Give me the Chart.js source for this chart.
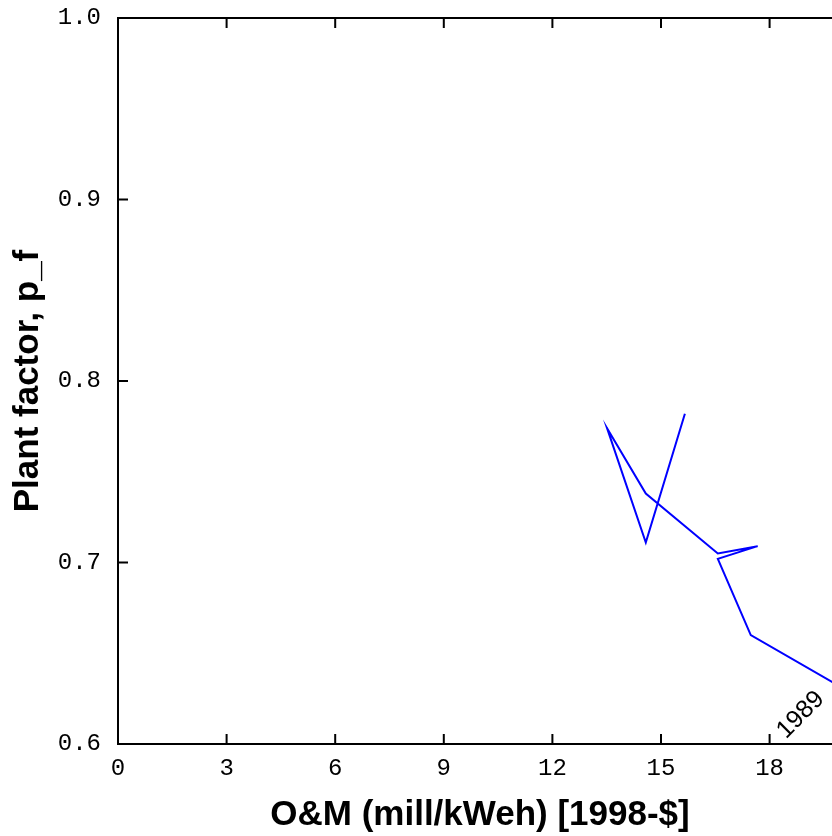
<!DOCTYPE html>
<html lang="en">
<head>
    <meta charset="UTF-8">
    <title>Plant factor vs O&amp;M</title>
    <script src="https://cdn.jsdelivr.net/npm/chart.js"></script>
    <style>
        html, body { margin: 0; padding: 0; background: #fff; overflow: hidden; }
        body { width: 832px; height: 836px; }
        canvas { display: block; }
    </style>
</head>
<body>
    <canvas id="chart" width="860" height="836"></canvas>

    <script>
        // O&M cost (mill/kWeh, 1998-$) and plant factor, one point per year
        const years = [1989, 1990, 1991, 1992, 1993, 1994, 1995, 1996, 1997];
        const omCost = [20.0, 17.48, 16.57, 17.67, 16.57, 14.58, 13.51, 14.58, 15.66];
        const plantFactor = [0.631, 0.660, 0.702, 0.709, 0.705, 0.738, 0.774, 0.711, 0.782];

        const xTicks = [0, 3, 6, 9, 12, 15, 18];
        const yTicks = [0.6, 0.7, 0.8, 0.9, 1.0];

        // year label next to the first point
        const yearLabel = { text: '1989', x: 18.45, y: 0.6025 };

        const points = omCost.map((v, i) => ({ x: v, y: plantFactor[i] }));

        // box round the plot with inward tick marks on all four sides
        const framePlugin = {
            id: 'frame',
            afterDatasetsDraw(chart) {
                const { ctx, chartArea: a, scales: { x, y } } = chart;
                const len = 10;
                ctx.save();
                ctx.strokeStyle = '#000';
                ctx.lineWidth = 2;
                ctx.strokeRect(a.left, a.top, a.right - a.left, a.bottom - a.top);
                ctx.beginPath();
                xTicks.forEach(v => {
                    const px = x.getPixelForValue(v);
                    ctx.moveTo(px, a.bottom); ctx.lineTo(px, a.bottom - len);
                    ctx.moveTo(px, a.top); ctx.lineTo(px, a.top + len);
                });
                yTicks.forEach(v => {
                    const py = y.getPixelForValue(v);
                    ctx.moveTo(a.left, py); ctx.lineTo(a.left + len, py);
                    ctx.moveTo(a.right, py); ctx.lineTo(a.right - len, py);
                });
                ctx.stroke();

                // year annotation
                ctx.translate(x.getPixelForValue(yearLabel.x), y.getPixelForValue(yearLabel.y));
                ctx.rotate(-Math.PI / 4);
                ctx.fillStyle = '#000';
                ctx.font = '25px "Liberation Sans", Arial, sans-serif';
                ctx.textAlign = 'left';
                ctx.textBaseline = 'alphabetic';
                ctx.fillText(yearLabel.text, 0, 0);
                ctx.restore();
            }
        };

        const tickFont = { family: '"Liberation Mono", "Courier New", monospace', size: 24 };
        const titleFont = { family: '"Liberation Sans", Arial, sans-serif', size: 35, weight: 'bold' };

        new Chart(document.getElementById('chart').getContext('2d'), {
            type: 'scatter',
            data: {
                datasets: [{
                    data: points,
                    showLine: true,
                    borderColor: '#0000ff',
                    borderWidth: 2,
                    pointRadius: 0,
                    fill: false,
                    tension: 0
                }]
            },
            options: {
                responsive: false,
                animation: false,
                layout: { padding: { top: 18, right: 18, left: 0, bottom: 0 } },
                plugins: {
                    legend: { display: false },
                    tooltip: { enabled: false }
                },
                scales: {
                    x: {
                        type: 'linear',
                        min: 0,
                        max: 20,
                        afterFit: scale => {
                            scale.height = 92;
                            scale.paddingLeft = 0;
                            scale.paddingRight = 0;
                        },
                        afterBuildTicks: scale => { scale.ticks = xTicks.map(v => ({ value: v })); },
                        border: { display: false },
                        grid: { display: false, drawTicks: false },
                        ticks: {
                            padding: 10,
                            color: '#000',
                            font: tickFont,
                            callback: v => String(v)
                        },
                        title: {
                            display: true,
                            text: 'O&M (mill/kWeh) [1998-$]',
                            color: '#000',
                            padding: 0,
                            font: titleFont
                        }
                    },
                    y: {
                        type: 'linear',
                        min: 0.6,
                        max: 1.0,
                        afterFit: scale => {
                            scale.width = 118;
                            scale.paddingTop = 0;
                            scale.paddingBottom = 0;
                        },
                        afterBuildTicks: scale => { scale.ticks = yTicks.map(v => ({ value: v })); },
                        border: { display: false },
                        grid: { display: false, drawTicks: false },
                        ticks: {
                            padding: 17,
                            color: '#000',
                            font: tickFont,
                            callback: v => v.toFixed(1)
                        },
                        title: {
                            display: true,
                            text: 'Plant factor, p_f',
                            color: '#000',
                            padding: 7,
                            font: titleFont
                        }
                    }
                }
            },
            plugins: [framePlugin]
        });
    </script>
</body>
</html>
